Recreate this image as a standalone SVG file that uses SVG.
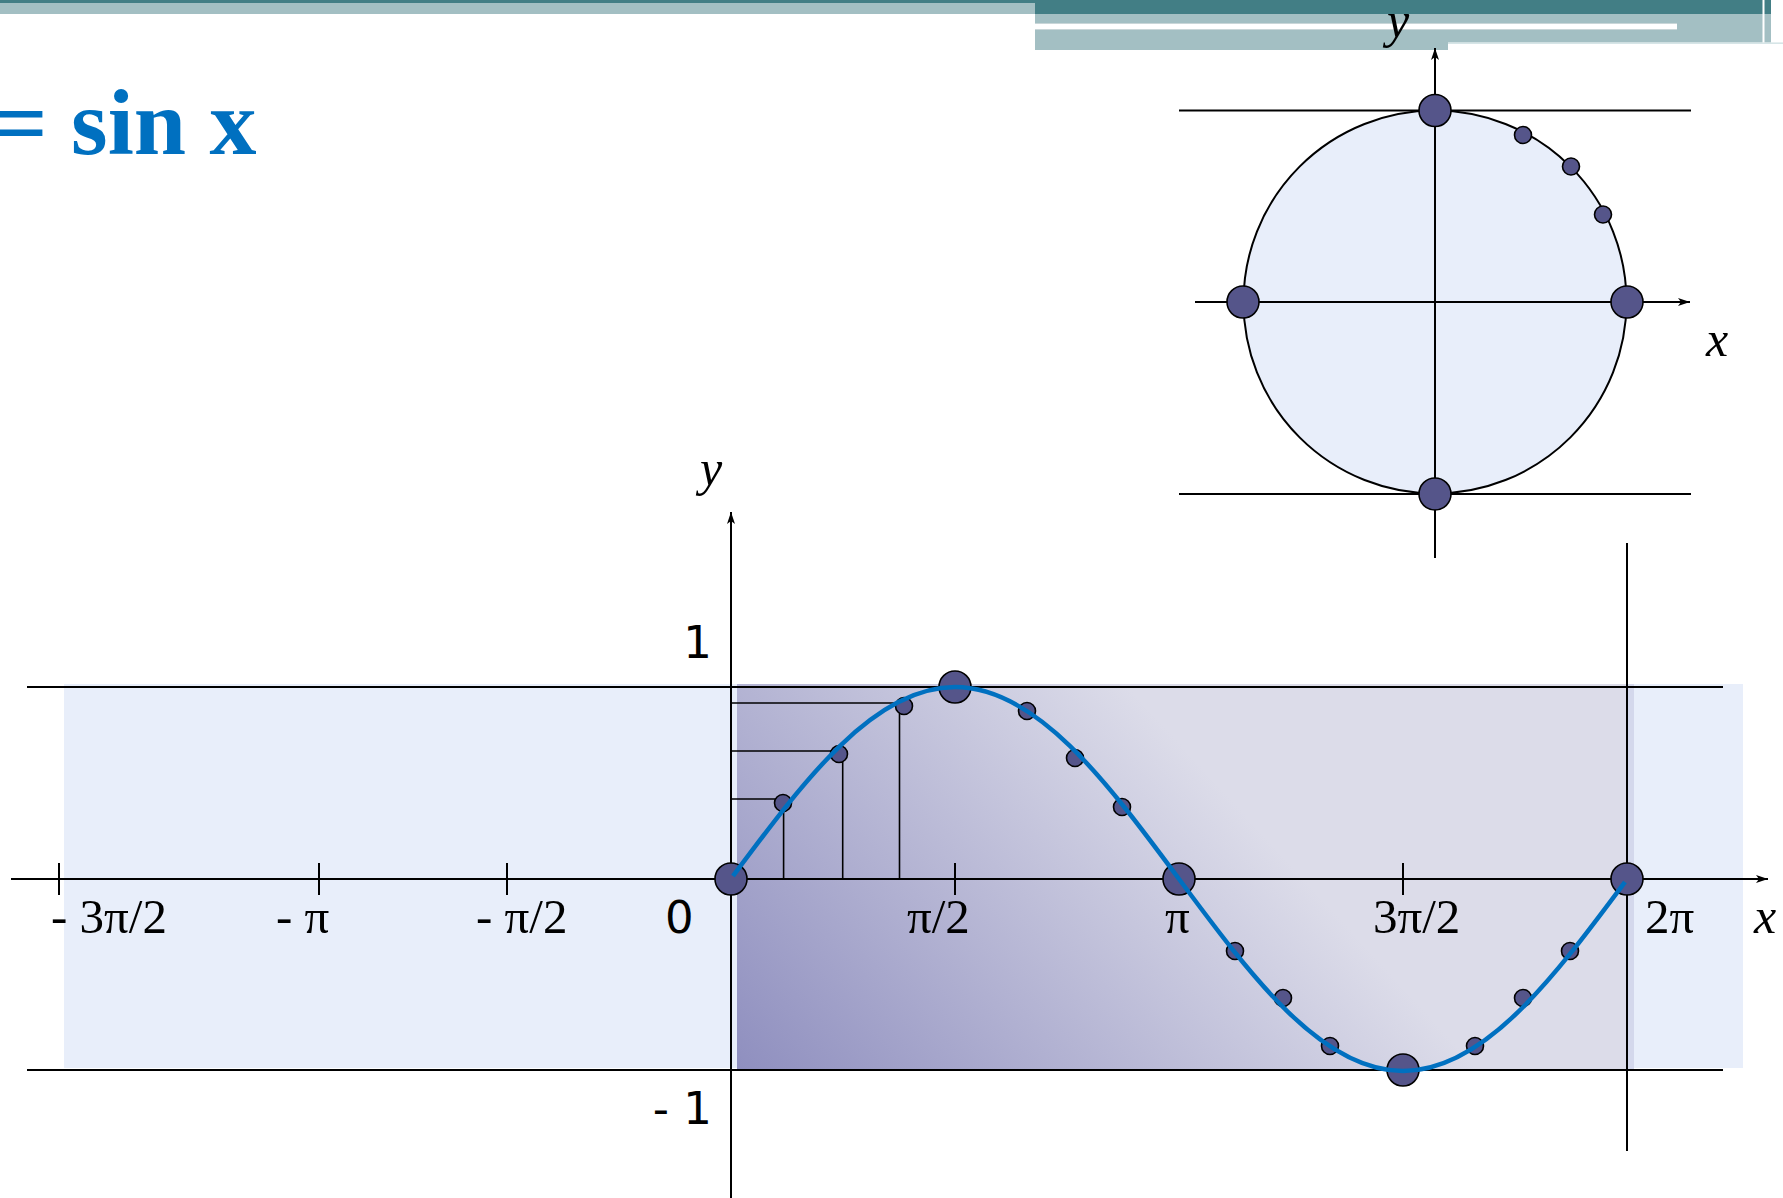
<svg xmlns="http://www.w3.org/2000/svg" width="1783" height="1198" viewBox="0 0 1783 1198">
<style>
.ln{stroke:#000;stroke-width:2;fill:none}
.thin{stroke:#000;stroke-width:1.6;fill:none}
.dot{fill:#55558a;stroke:#000;stroke-width:1.6}
.tk{font-family:"Liberation Serif","Times New Roman",serif;font-size:49px;fill:#000}
.it{font-family:"Liberation Serif","Times New Roman",serif;font-style:italic;font-size:50px;fill:#000}
.sn{font-family:"DejaVu Sans",Verdana,sans-serif;font-size:45px;fill:#000}
</style>
<defs>
<marker id="arr" viewBox="0 0 12 8" refX="12" refY="4" markerWidth="12" markerHeight="8" markerUnits="userSpaceOnUse" orient="auto">
<path d="M0,0 L12,4 L0,8 L3,4 Z" fill="#000"/>
</marker>
<linearGradient id="grad" gradientUnits="userSpaceOnUse" x1="737" y1="1069" x2="1140" y2="700">
<stop offset="0" stop-color="#8f8fbf"/>
<stop offset="1" stop-color="#dcdce9"/>
</linearGradient>
</defs>
<rect width="1783" height="1198" fill="#fff"/>

<g id="header">
<rect x="0" y="0" width="1035" height="3" fill="#427e85"/>
<rect x="0" y="3" width="1035" height="11" fill="#a3bfc3"/>
<rect x="1035" y="0" width="736" height="14" fill="#427e85"/>
<rect x="1035" y="14" width="413" height="36" fill="#a3bfc3"/>
<rect x="1448" y="14" width="323" height="28.5" fill="#a3bfc3"/>
<rect x="1448" y="42.5" width="335" height="1.3" fill="#cddfe1"/>
<rect x="1035" y="23" width="642" height="7" fill="#c9d6d8"/>
<rect x="1035" y="24" width="642" height="5" fill="#fff"/>
<rect x="1762.5" y="0" width="2" height="42.5" fill="#fff"/>
</g>

<g id="title">
<text x="-6" y="154" font-family="'Liberation Serif','Times New Roman',serif" font-weight="bold" font-size="94" fill="#0070c0">= sin x</text>
</g>

<g id="unit-circle">
<circle cx="1435" cy="302" r="191.5" fill="#e8eefa" stroke="#000" stroke-width="2"/>
<line class="ln" x1="1179" y1="110.5" x2="1691" y2="110.5"/>
<line class="ln" x1="1179" y1="494" x2="1691" y2="494"/>
<line class="ln" x1="1195" y1="302" x2="1690" y2="302" marker-end="url(#arr)"/>
<line class="ln" x1="1435" y1="558" x2="1435" y2="48" marker-end="url(#arr)"/>
<circle class="dot" cx="1435" cy="110.5" r="16"/>
<circle class="dot" cx="1243" cy="302" r="16"/>
<circle class="dot" cx="1627" cy="302" r="16"/>
<circle class="dot" cx="1435" cy="494" r="16"/>
<circle class="dot" cx="1523" cy="135" r="8.5"/>
<circle class="dot" cx="1571" cy="166.5" r="8.5"/>
<circle class="dot" cx="1603" cy="214.5" r="8.5"/>
<text class="it" x="1387" y="37">y</text>
<text class="it" x="1706" y="356">x</text>
</g>

<g id="sine-graph">
<rect x="64" y="684" width="1679" height="384" fill="#e8eefa"/>
<rect x="737" y="684" width="897" height="385" fill="url(#grad)"/>
<rect x="1628" y="684" width="6" height="385" fill="#d4d8ec"/>
<line class="ln" x1="27" y1="687" x2="1723" y2="687"/>
<line class="ln" x1="27" y1="1070" x2="1723" y2="1070"/>
<line class="ln" x1="11" y1="879" x2="1768" y2="879" marker-end="url(#arr)"/>
<line class="ln" x1="731" y1="1198" x2="731" y2="512" marker-end="url(#arr)"/>
<line class="ln" x1="1627" y1="543" x2="1627" y2="1151"/>
<g id="ticks">
<line class="ln" x1="59" y1="863" x2="59" y2="895"/>
<line class="ln" x1="319" y1="863" x2="319" y2="895"/>
<line class="ln" x1="507" y1="863" x2="507" y2="895"/>
<line class="ln" x1="955" y1="863" x2="955" y2="895"/>
<line class="ln" x1="1403" y1="863" x2="1403" y2="895"/>
</g>
<g id="drop-lines">
<line class="thin" x1="731" y1="703" x2="900" y2="703"/>
<line class="thin" x1="731" y1="751" x2="836" y2="751"/>
<line class="thin" x1="731" y1="799" x2="780" y2="799"/>
<line class="thin" x1="783.6" y1="803" x2="783.6" y2="879"/>
<line class="thin" x1="842.7" y1="754" x2="842.7" y2="879"/>
<line class="thin" x1="899.5" y1="706" x2="899.5" y2="879"/>
</g>
<g id="sine-dots">
<circle class="dot" cx="783" cy="803" r="8.5"/>
<circle class="dot" cx="839" cy="754" r="8.5"/>
<circle class="dot" cx="904" cy="706" r="8.5"/>
<circle class="dot" cx="1027" cy="711" r="8.5"/>
<circle class="dot" cx="1075" cy="758" r="8.5"/>
<circle class="dot" cx="1122" cy="807" r="8.5"/>
<circle class="dot" cx="1235" cy="951" r="8.5"/>
<circle class="dot" cx="1283" cy="998" r="8.5"/>
<circle class="dot" cx="1330" cy="1046" r="8.5"/>
<circle class="dot" cx="1475" cy="1046" r="8.5"/>
<circle class="dot" cx="1523" cy="998" r="8.5"/>
<circle class="dot" cx="1570" cy="951" r="8.5"/>
<circle class="dot" cx="731" cy="879" r="16"/>
<circle class="dot" cx="955" cy="687" r="16"/>
<circle class="dot" cx="1179" cy="879" r="16"/>
<circle class="dot" cx="1403" cy="1070" r="16"/>
<circle class="dot" cx="1627" cy="879" r="16"/>
</g>
<path id="sine-curve" d="M733,876 C804.05,780.64 873.64,687 955,687 C1036.36,687 1105.95,780.64 1179,879 C1252.05,977.36 1321.64,1071 1403,1071 C1484.36,1071 1553.95,977.36 1625,882" fill="none" stroke="#0070c0" stroke-width="4.5"/>
<g id="labels">
<text class="it" x="700" y="485">y</text>
<text class="sn" x="712" y="658" text-anchor="end">1</text>
<text class="sn" x="712" y="1124" text-anchor="end">- 1</text>
<text class="sn" x="665" y="933" font-size="47">0</text>
<text class="tk" x="51" y="933">- 3π/2</text>
<text class="tk" x="276" y="933">- π</text>
<text class="tk" x="476" y="933">- π/2</text>
<text class="tk" x="907" y="933">π/2</text>
<text class="tk" x="1165" y="933">π</text>
<text class="tk" x="1373" y="933">3π/2</text>
<text class="tk" x="1645" y="933">2π</text>
<text class="it" x="1754" y="933">x</text>
</g>
</g>
</svg>
